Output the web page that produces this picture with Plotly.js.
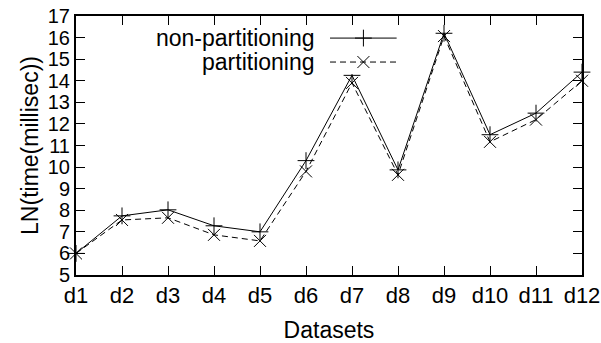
<!DOCTYPE html>
<html><head><meta charset="utf-8">
<script src="https://cdn.plot.ly/plotly-3.0.1.min.js"></script>
<style>html,body{margin:0;padding:0;background:#fff}#chart{width:601px;height:343px}</style>
</head><body><div id="chart"></div>
<script>
const categories = ["d1","d2","d3","d4","d5","d6","d7","d8","d9","d10","d11","d12"];
const nonPartitioning = [6.0, 7.74, 8.02, 7.28, 7.0, 10.3, 14.25, 9.87, 16.2, 11.5, 12.5, 14.4];
const partitioning = [6.0, 7.55, 7.65, 6.86, 6.58, 9.8, 13.9, 9.64, 16.07, 11.17, 12.2, 14.0];
const yTicks = [5,6,7,8,9,10,11,12,13,14,15,16,17];
const xIdx = categories.map((c,i)=>i);
const F = "Liberation Sans, Arial, sans-serif";
const fsTick = 22;
const fsYTick = 20;
const fsTitle = 23;

const traces = [
  {x: xIdx, y: nonPartitioning, mode: 'lines+markers', name: 'non-partitioning', cliponaxis: false,
   line: {color: '#000', width: 1}, marker: {symbol: 'cross-thin', size: 12, line: {color: '#000', width: 1}}, showlegend: false},
  {x: xIdx, y: partitioning, mode: 'lines+markers', name: 'partitioning', cliponaxis: false,
   line: {color: '#000', width: 1, dash: '6px,4px'}, marker: {symbol: 'x-thin', size: 12, line: {color: '#000', width: 1}}, showlegend: false},
  // legend key samples
  {x: [0, 1], y: [0.5, 0.5], xaxis: 'x2', yaxis: 'y2', mode: 'lines', hoverinfo: 'skip',
   line: {color: '#000', width: 1}, showlegend: false},
  {x: [0, 1], y: [-0.5, -0.5], xaxis: 'x2', yaxis: 'y2', mode: 'lines', hoverinfo: 'skip',
   line: {color: '#000', width: 1, dash: '6px,4px'}, showlegend: false},
  {x: [0.5], y: [0.5], xaxis: 'x2', yaxis: 'y2', mode: 'markers', hoverinfo: 'skip',
   marker: {symbol: 'cross-thin', size: 12, line: {color: '#000', width: 1}}, showlegend: false},
  {x: [0.5], y: [-0.5], xaxis: 'x2', yaxis: 'y2', mode: 'markers', hoverinfo: 'skip',
   marker: {symbol: 'x-thin', size: 12, line: {color: '#000', width: 1}}, showlegend: false}
];

const layout = {
  width: 601, height: 343,
  margin: {l: 76, r: 19, t: 16, b: 68},
  paper_bgcolor: '#fff', plot_bgcolor: '#fff',
  font: {family: F, size: fsTick, color: '#000'},
  xaxis: {range: [0, 11], tickvals: xIdx, ticktext: categories, ticks: 'inside', ticklen: 9, tickwidth: 1,
    tickcolor: '#000', showline: true, linewidth: 2, linecolor: '#000', mirror: 'ticks', showgrid: false, zeroline: false,
    tickfont: {family: F, size: fsTick}, title: {text: 'Datasets', font: {family: F, size: fsTitle}, standoff: 15}},
  yaxis: {range: [5, 17], tickvals: yTicks, ticks: 'inside', ticklen: 9, tickwidth: 1,
    tickcolor: '#000', showline: true, linewidth: 2, linecolor: '#000', mirror: 'ticks', showgrid: false, zeroline: false,
    tickfont: {family: F, size: fsYTick}, title: {text: 'LN(time(millisec))', font: {family: F, size: fsTitle}, standoff: 3}},
  xaxis2: {domain: [0.502, 0.634], anchor: 'y2', range: [0, 1], visible: false, fixedrange: true},
  yaxis2: {domain: [0.776, 0.961], anchor: 'x2', range: [-1, 1], visible: false, fixedrange: true},
  annotations: [
    {xref: 'paper', yref: 'paper', x: 0.477, y: 0.915, xanchor: 'right', yanchor: 'middle', text: 'non-partitioning', showarrow: false, font: {family: F, size: fsTitle}},
    {xref: 'paper', yref: 'paper', x: 0.477, y: 0.822, xanchor: 'right', yanchor: 'middle', text: 'partitioning', showarrow: false, font: {family: F, size: fsTitle}}
  ]
};
Plotly.newPlot('chart', traces, layout, {staticPlot: true});
</script></body></html>
